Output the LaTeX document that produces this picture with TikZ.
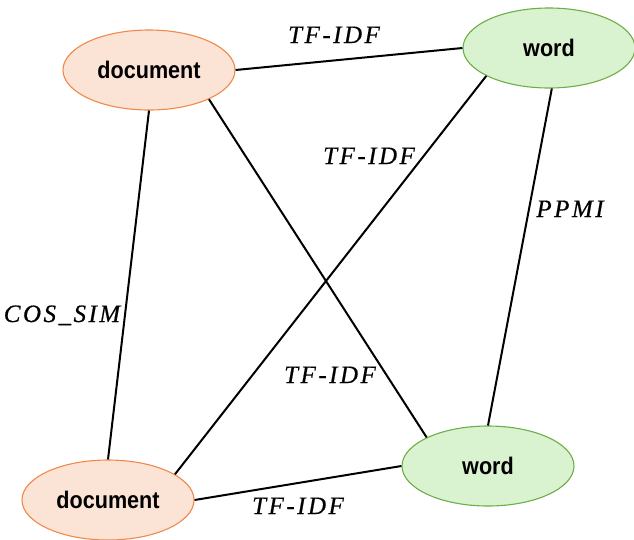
\documentclass[tikz,border=0pt]{standalone}
\usepackage{fontspec}
\setmainfont{Liberation Serif}
\newfontfamily\nodefont[FakeStretch=0.9]{Liberation Sans}
\newfontfamily\lblfont[LetterSpace=10,FakeBold=0.5]{Liberation Serif}
\usetikzlibrary{shapes.geometric}
\definecolor{docfill}{HTML}{FBE3D6}
\definecolor{docline}{HTML}{F08A4B}
\definecolor{wordfill}{HTML}{D9F2D0}
\definecolor{wordline}{HTML}{70AD47}
\tikzset{
  ell/.style={ellipse, minimum width=172pt, minimum height=80pt, inner sep=0pt, line width=1.1pt,
    font=\nodefont\bfseries\fontsize{24}{26}\selectfont},
  docnode/.style={ell, draw=docline, fill=docfill},
  wordnode/.style={ell, draw=wordline, fill=wordfill},
  edge/.style={line width=2pt, black},
  lbl/.style={font=\lblfont\itshape\fontsize{25}{27}\selectfont, inner sep=0pt, anchor=base}
}
\begin{document}
\begin{tikzpicture}[x=1pt,y=-1pt]
\useasboundingbox (0,0) rectangle (634,539);
\node[docnode] (dTL) at (149,70) {document};
\node[wordnode] (wTR) at (549,48) {word};
\node[docnode] (dBL) at (108,500) {document};
\node[wordnode] (wBR) at (488,466) {word};
\draw[edge] (dTL.east) -- (wTR.west);
\draw[edge] (dTL.-26) -- (wBR.155);
\draw[edge] (dTL.south) -- (dBL.north);
\draw[edge] (wTR.204) -- (dBL.21);
\draw[edge] (wTR.-86) -- (wBR.north);
\draw[edge] (dBL.east) -- (wBR.west);
\node[lbl] (l1) at (334,43) {TF-IDF};
\node[lbl] (l2) at (369,164) {TF-IDF};
\node[lbl] (l3) at (570,217) {PPMI};
\node[lbl] (l4) at (62,322) {COS\_SIM};
\node[lbl] (l5) at (330,383) {TF-IDF};
\node[lbl] (l6) at (298,514) {TF-IDF};
\end{tikzpicture}
\end{document}
